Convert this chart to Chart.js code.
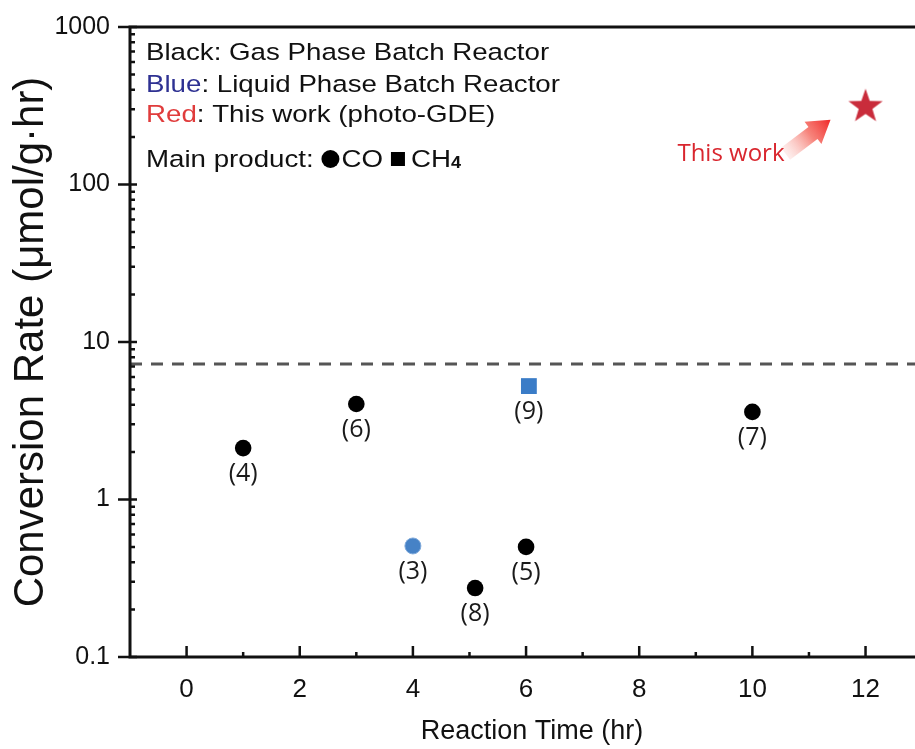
<!DOCTYPE html>
<html><head><meta charset="utf-8">
<script src="https://cdn.jsdelivr.net/npm/chart.js@4.4.1/dist/chart.umd.min.js"></script>
<style>
html,body{margin:0;padding:0;background:#fff;overflow:hidden;width:915px;height:749px}
#wrap{position:relative;width:934px;height:749px}
</style></head><body>
<div id="wrap"><canvas id="c" width="934" height="749"></canvas></div>
<script>
// ---- data ----
const gasTimes  = [1, 3, 10, 6, 5.1];
const gasRates  = [2.12, 4.04, 3.6, 0.5, 0.274];
const gasLabels = ['(4)', '(6)', '(7)', '(5)', '(8)'];

const liqCoTimes  = [4];
const liqCoRates  = [0.507];
const liqCoLabels = ['(3)'];

const liqCh4Times  = [6.05];
const liqCh4Rates  = [5.25];
const liqCh4Labels = ['(9)'];

const thisWorkTimes = [12];
const thisWorkRates = [312];

const thresholdRate = 7.25;
const xTickValues = [0, 2, 4, 6, 8, 10, 12];
const yTickValues = [0.1, 1, 10, 100, 1000];
const X_MIN = -1, X_MAX = 13.21;

const legendLines = [
  [['Black', '#111'], [': Gas Phase Batch Reactor', '#111']],
  [['Blue', '#2e3192'], [': Liquid Phase Batch Reactor', '#111']],
  [['Red', '#e03c3c'], [': This work (photo-GDE)', '#111']]
];

function pts(xs, ys) { return xs.map((x, i) => ({x: x, y: ys[i]})); }

// star image for "This work"
function makeStar(R, r, color) {
  const c = document.createElement('canvas');
  const s = Math.ceil(R * 2 + 4);
  c.width = s; c.height = s;
  const g = c.getContext('2d');
  const cx = s / 2, cy = s / 2;
  g.beginPath();
  for (let i = 0; i < 10; i++) {
    const rad = i % 2 === 0 ? R : r;
    const a = -Math.PI / 2 + i * Math.PI / 5;
    const px = cx + rad * Math.cos(a), py = cy + rad * Math.sin(a);
    if (i === 0) g.moveTo(px, py); else g.lineTo(px, py);
  }
  g.closePath();
  g.fillStyle = color;
  g.fill();
  return c;
}
const starImg = makeStar(18, 7.2, '#c92c3b');

const FONT = "'Liberation Sans', Arial, sans-serif";
const LABEL_FONT = "25px 'Open Sans', 'Noto Sans', sans-serif";

function noPad(s) { s.paddingTop = 0; s.paddingBottom = 0; s.paddingLeft = 0; s.paddingRight = 0; }

const decorPlugin = {
  id: 'decor',
  afterDraw(chart) {
    const ctx = chart.ctx;
    const a = chart.chartArea;
    const xs = chart.scales.x, ys = chart.scales.y;
    ctx.save();
    // frame
    ctx.strokeStyle = '#111';
    ctx.lineWidth = 3;
    ctx.lineCap = 'butt';
    ctx.beginPath();
    ctx.moveTo(a.left, a.top); ctx.lineTo(a.right, a.top);
    ctx.moveTo(a.left - 1.5, a.bottom); ctx.lineTo(a.right, a.bottom);
    ctx.moveTo(a.left, a.top - 1.5); ctx.lineTo(a.left, a.bottom + 1.5);
    ctx.moveTo(a.right, a.top); ctx.lineTo(a.right, a.bottom);
    ctx.stroke();
    // x ticks (inward)
    ctx.lineWidth = 2.5;
    ctx.beginPath();
    for (let v = 0; v <= 13; v++) {
      const px = xs.getPixelForValue(v);
      if (px > a.right - 2) continue;
      const len = v % 2 === 0 ? 11 : 5;
      ctx.moveTo(px, a.bottom); ctx.lineTo(px, a.bottom - len);
    }
    ctx.stroke();
    // y ticks
    ctx.lineWidth = 2.5;
    ctx.beginPath();
    for (let e = -1; e <= 3; e++) {
      const p = ys.getPixelForValue(Math.pow(10, e));
      ctx.moveTo(a.left - 12, p); ctx.lineTo(a.left + 7, p);
      if (e < 3) {
        for (let m = 2; m <= 9; m++) {
          const q = ys.getPixelForValue(m * Math.pow(10, e));
          ctx.moveTo(a.left, q); ctx.lineTo(a.left + 5, q);
        }
      }
    }
    ctx.stroke();

    // legend text
    const sx = 1.13;
    ctx.font = '24.5px ' + FONT;
    ctx.textBaseline = 'alphabetic';
    ctx.textAlign = 'left';
    const baseX = a.left + 16;
    const baselines = [a.top + 33, a.top + 65, a.top + 95];
    legendLines.forEach((parts, i) => {
      ctx.save();
      ctx.translate(baseX, baselines[i]);
      ctx.scale(sx, 1);
      let x = 0;
      parts.forEach(([t, col]) => {
        ctx.fillStyle = col;
        ctx.fillText(t, x, 0);
        x += ctx.measureText(t).width;
      });
      ctx.restore();
    });
    // main product line
    const by = a.top + 140;
    ctx.save();
    ctx.translate(baseX, by);
    ctx.scale(sx, 1);
    ctx.fillStyle = '#111';
    const t1 = 'Main product: ';
    ctx.fillText(t1, 0, 0);
    let cx = ctx.measureText(t1).width;
    ctx.restore();
    let X = baseX + cx * sx;
    ctx.fillStyle = '#000';
    ctx.beginPath(); ctx.arc(X + 9, by - 8, 9, 0, Math.PI * 2); ctx.fill();
    X += 20;
    ctx.save(); ctx.translate(X, by); ctx.scale(sx, 1);
    ctx.fillStyle = '#111'; ctx.fillText('CO', 0, 0);
    const wCO = ctx.measureText('CO').width;
    ctx.restore();
    X += wCO * sx + 8;
    ctx.fillStyle = '#000';
    ctx.fillRect(X, by - 15, 14, 14);
    X += 20;
    ctx.save(); ctx.translate(X, by); ctx.scale(sx, 1);
    ctx.fillStyle = '#111'; ctx.fillText('CH', 0, 0);
    const wCH = ctx.measureText('CH').width;
    ctx.font = 'bold 16px ' + FONT;
    ctx.fillText('4', wCH, 1);
    ctx.restore();

    // point labels
    ctx.font = LABEL_FONT;
    ctx.fillStyle = '#1a1a1a';
    ctx.textAlign = 'center';
    ctx.textBaseline = 'middle';
    chart.data.datasets.forEach((ds, di) => {
      if (!ds.pointLabels) return;
      const meta = chart.getDatasetMeta(di);
      meta.data.forEach((el, j) => {
        ctx.fillText(ds.pointLabels[j], el.x, el.y + 26);
      });
    });

    // "This work" annotation relative to star
    const starMeta = chart.getDatasetMeta(3).data[0];
    const sX = starMeta.x, sY = starMeta.y;
    const tip = {x: sX - 35, y: sY + 13};
    const tail = {x: sX - 80, y: sY + 47};
    const dx = tip.x - tail.x, dy = tip.y - tail.y;
    const L = Math.hypot(dx, dy), ux = dx / L, uy = dy / L, nx = -uy, ny = ux;
    const headLen = 22, headW = 14, shaftW = 7.5;
    const bx = tip.x - ux * headLen, byy = tip.y - uy * headLen;
    const grad = ctx.createLinearGradient(tail.x, tail.y, tip.x, tip.y);
    grad.addColorStop(0, 'rgba(250,200,195,0.3)');
    grad.addColorStop(0.55, 'rgba(245,110,100,0.85)');
    grad.addColorStop(1, 'rgba(240,40,40,1)');
    ctx.fillStyle = grad;
    ctx.beginPath();
    ctx.moveTo(tail.x + nx * shaftW, tail.y + ny * shaftW);
    ctx.lineTo(bx + nx * shaftW, byy + ny * shaftW);
    ctx.lineTo(bx + nx * headW, byy + ny * headW);
    ctx.lineTo(tip.x, tip.y);
    ctx.lineTo(bx - nx * headW, byy - ny * headW);
    ctx.lineTo(bx - nx * shaftW, byy - ny * shaftW);
    ctx.lineTo(tail.x - nx * shaftW, tail.y - ny * shaftW);
    ctx.closePath();
    ctx.fill();

    ctx.font = "24px 'Open Sans', 'Noto Sans', sans-serif";
    ctx.fillStyle = '#d9262e';
    ctx.textAlign = 'right';
    ctx.textBaseline = 'alphabetic';
    ctx.fillText('This work', sX - 81, sY + 54);
    ctx.restore();
  }
};

new Chart(document.getElementById('c'), {
  type: 'scatter',
  data: {
    datasets: [
      {
        label: 'threshold', type: 'line',
        data: [{x: X_MIN, y: thresholdRate}, {x: X_MAX, y: thresholdRate}],
        borderColor: '#555', borderWidth: 3, borderDash: [12, 9],
        pointRadius: 0, fill: false, order: 5
      },
      {
        label: 'Gas phase (CO)', data: pts(gasTimes, gasRates), pointLabels: gasLabels,
        pointStyle: 'circle', pointRadius: 8.3, backgroundColor: '#000', borderColor: '#000', borderWidth: 0
      },
      {
        label: 'Liquid phase (CO)', data: pts(liqCoTimes, liqCoRates), pointLabels: liqCoLabels,
        pointStyle: 'circle', pointRadius: 8, backgroundColor: '#4682c6', borderColor: '#7fa9da', borderWidth: 1
      },
      {
        label: 'This work', data: pts(thisWorkTimes, thisWorkRates),
        pointStyle: starImg, pointRadius: 18
      },
      {
        label: 'Liquid phase (CH4)', data: pts(liqCh4Times, liqCh4Rates), pointLabels: liqCh4Labels,
        pointStyle: 'rect', pointRadius: 11.2, backgroundColor: '#3a7cc7', borderColor: '#3a7cc7', borderWidth: 0
      }
    ]
  },
  options: {
    responsive: false,
    animation: false,
    devicePixelRatio: 1,
    layout: {autoPadding: false, padding: {top: 27, right: 0, left: 0, bottom: 0}},
    plugins: {legend: {display: false}, tooltip: {enabled: false}},
    scales: {
      x: {
        type: 'linear', min: X_MIN, max: X_MAX,
        grid: {display: false, drawTicks: false},
        border: {display: false},
        afterBuildTicks: s => { s.ticks = xTickValues.map(v => ({value: v})); },
        afterFit: s => { s.height = 92; noPad(s); },
        ticks: {color: '#111', font: {family: FONT, size: 26}, padding: 17, callback: v => String(v), maxRotation: 0},
        title: {display: true, text: 'Reaction Time (hr)', color: '#111', font: {family: FONT, size: 27}, padding: {top: 0, bottom: 1}}
      },
      y: {
        type: 'logarithmic', min: 0.1, max: 1000,
        grid: {display: false, drawTicks: false},
        border: {display: false},
        afterBuildTicks: s => { s.ticks = yTickValues.map(v => ({value: v})); },
        afterFit: s => { s.width = 130; noPad(s); },
        ticks: {color: '#111', font: {family: FONT, size: 25}, padding: 20, callback: v => String(v)},
        title: {display: true, text: 'Conversion Rate (μmol/g·hr)', color: '#111', font: {family: FONT, size: 42}, padding: {top: 6, bottom: 0}}
      }
    }
  },
  plugins: [decorPlugin]
});
</script>
</body></html>
